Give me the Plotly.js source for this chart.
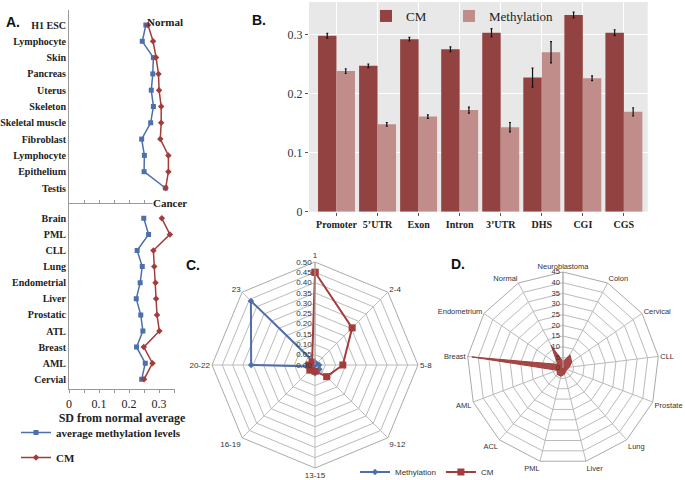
<!DOCTYPE html>
<html>
<head>
<meta charset="utf-8">
<script src="https://cdn.plot.ly/plotly-3.0.1.min.js"></script>
<style>
  body { margin: 0; padding: 0; background: #fff; }
  #graphDiv { width: 685px; height: 480px; }
</style>
</head>
<body>
<div id="graphDiv"></div>
<script>
// Panel A: SD from normal average
const normalTissues = ['H1 ESC', 'Lymphocyte', 'Skin', 'Pancreas', 'Uterus', 'Skeleton', 'Skeletal muscle', 'Fibroblast', 'Lymphocyte', 'Epithelium', 'Testis'];
const normalMeth = [0.256, 0.244, 0.281, 0.279, 0.274, 0.281, 0.272, 0.242, 0.251, 0.250, 0.321];
const normalCM = [0.263, 0.280, 0.290, 0.298, 0.300, 0.307, 0.307, 0.304, 0.331, 0.331, 0.322];
const cancerTypes = ['Brain', 'PML', 'CLL', 'Lung', 'Endometrial', 'Liver', 'Prostatic', 'ATL', 'Breast', 'AML', 'Cervial'];
const cancerMeth = [0.249, 0.265, 0.227, 0.244, 0.237, 0.224, 0.239, 0.246, 0.225, 0.254, 0.242];
const cancerCM = [0.309, 0.336, 0.281, 0.284, 0.288, 0.290, 0.293, 0.301, 0.249, 0.278, 0.250];

// Panel B: genomic regions
const regions = ['Promoter', '5’UTR', 'Exon', 'Intron', '3’UTR', 'DHS', 'CGI', 'CGS'];
const regionCM = [0.298, 0.247, 0.292, 0.275, 0.303, 0.227, 0.333, 0.303];
const regionCMErr = [0.004, 0.003, 0.003, 0.004, 0.007, 0.016, 0.005, 0.005];
const regionMeth = [0.238, 0.148, 0.161, 0.172, 0.143, 0.270, 0.226, 0.169];
const regionMethErr = [0.004, 0.003, 0.003, 0.005, 0.008, 0.018, 0.004, 0.007];

// Panel C: radar by class
const cnvClasses = ['1', '2-4', '5-8', '9-12', '13-15', '16-19', '20-22', '23'];
const cnvMeth = [0.01, 0.01, 0.02, 0.03, 0.04, 0.01, 0.31, 0.44];
const cnvCM = [0.45, 0.255, 0.135, 0.08, 0.03, 0.035, 0.03, 0.02];

// Panel D: radar by cancer
const cancerNames = ['Neuroblastoma', 'Colon', 'Cervical', 'CLL', 'Prostate', 'Lung', 'Liver', 'PML', 'ACL', 'AML', 'Breast', 'Endometrium', 'Normal'];
const cancerCMCount = [3, 7, 5, 3, 2, 2, 3, 4, 4, 3, 43, 3, 12];

const blue = '#4d6fac';
const red = '#a23d3b';
const barDark = '#924341';
const barLight = '#c08d8b';
const serif = 'Liberation Serif, Times New Roman, serif';
const sans = 'Liberation Sans, Arial, sans-serif';

function idx(arr) {
    return arr.map((_, i) => i);
}

// A traces
let normMethTrace = {
    x: normalMeth, y: idx(normalTissues), xaxis: 'x', yaxis: 'y',
    mode: 'lines+markers', name: 'average methylation levels',
    line: {color: blue, width: 1.5}, marker: {symbol: 'square', size: 5, color: blue},
    legend: 'legend', legendgroup: 'm'
};
let normCMTrace = {
    x: normalCM, y: idx(normalTissues), xaxis: 'x', yaxis: 'y',
    mode: 'lines+markers', name: 'CM',
    line: {color: red, width: 1.5}, marker: {symbol: 'diamond', size: 5, color: red},
    legend: 'legend', legendgroup: 'c'
};
let cancMethTrace = {
    x: cancerMeth, y: idx(cancerTypes), xaxis: 'x2', yaxis: 'y2',
    mode: 'lines+markers', showlegend: false,
    line: {color: blue, width: 1.5}, marker: {symbol: 'square', size: 5, color: blue}
};
let cancCMTrace = {
    x: cancerCM, y: idx(cancerTypes), xaxis: 'x2', yaxis: 'y2',
    mode: 'lines+markers', showlegend: false,
    line: {color: red, width: 1.5}, marker: {symbol: 'diamond', size: 5, color: red}
};

// B traces
let barCM = {
    type: 'bar', x: regions, y: regionCM, xaxis: 'x3', yaxis: 'y3', name: 'CM',
    marker: {color: barDark},
    error_y: {type: 'data', array: regionCMErr, color: '#111', thickness: 1.2, width: 1},
    legend: 'legend2'
};
let barMeth = {
    type: 'bar', x: regions, y: regionMeth, xaxis: 'x3', yaxis: 'y3', name: 'Methylation',
    marker: {color: barLight},
    error_y: {type: 'data', array: regionMethErr, color: '#111', thickness: 1.2, width: 1},
    legend: 'legend4'
};

// C traces
let radarMeth = {
    type: 'scatterpolar', r: cnvMeth.concat([cnvMeth[0]]), theta: cnvClasses.concat([cnvClasses[0]]),
    subplot: 'polar', mode: 'lines+markers', name: 'Methylation',
    line: {color: blue, width: 2}, marker: {symbol: 'diamond', size: 5, color: blue},
    legend: 'legend3'
};
let radarCM = {
    type: 'scatterpolar', r: cnvCM.concat([cnvCM[0]]), theta: cnvClasses.concat([cnvClasses[0]]),
    subplot: 'polar', mode: 'lines+markers', name: 'CM',
    line: {color: red, width: 2}, marker: {symbol: 'square', size: 7, color: red},
    legend: 'legend3'
};

// D trace
let radarD = {
    type: 'scatterpolar', r: cancerCMCount.concat([cancerCMCount[0]]), theta: cancerNames.concat([cancerNames[0]]),
    subplot: 'polar2', mode: 'lines', fill: 'toself', showlegend: false,
    line: {color: red, width: 1}, fillcolor: 'rgba(160,60,58,0.92)'
};

let data = [normMethTrace, normCMTrace, cancMethTrace, cancCMTrace, barCM, barMeth, radarMeth, radarCM, radarD];

const H = 480, W = 685;
function py(p) { return 1 - p / H; }
function px(p) { return p / W; }

let catFont = {family: serif, size: 10, color: '#222', weight: 'bold'};

let layout = {
    width: W, height: H,
    margin: {l: 0, r: 0, t: 0, b: 0, autoexpand: false},
    paper_bgcolor: '#fff', plot_bgcolor: 'rgba(0,0,0,0)',
    showlegend: true,
    barmode: 'group', bargap: 0.1, bargroupgap: 0,
    // A normal
    xaxis: {
        domain: [px(69), px(175)], anchor: 'y', range: [0, 0.353], automargin: false,
        showgrid: false, zeroline: false, showline: true, linecolor: '#999', linewidth: 1,
        ticks: 'inside', ticklen: 3, tickcolor: '#999', dtick: 0.05, showticklabels: false
    },
    yaxis: {
        domain: [py(203), py(10)], anchor: 'x', range: [10.92, -0.92], automargin: false,
        tickvals: idx(normalTissues), ticktext: normalTissues,
        showgrid: false, zeroline: false, showline: true, linecolor: '#999', linewidth: 1,
        ticks: '', tickfont: catFont
    },
    // A cancer
    xaxis2: {
        domain: [px(69), px(175)], anchor: 'y2', range: [0, 0.353], automargin: false,
        showgrid: false, zeroline: false, showline: true, linecolor: '#999', linewidth: 1,
        ticks: 'outside', ticklen: 3, tickcolor: '#999', dtick: 0.1,
        minor: {dtick: 0.05, ticks: 'outside', ticklen: 3, tickcolor: '#999'},
        tickfont: {family: serif, size: 12, color: '#222'},
        title: {text: 'SD from normal average', font: {family: serif, size: 12, color: '#222', weight: 'bold'}, standoff: 0}
    },
    yaxis2: {
        domain: [py(389.3), py(203)], anchor: 'x2', range: [10.62, -0.95], automargin: false,
        tickvals: idx(cancerTypes), ticktext: cancerTypes,
        showgrid: false, zeroline: false, showline: true, linecolor: '#999', linewidth: 1,
        ticks: '', tickfont: catFont
    },
    // B
    xaxis3: {
        domain: [px(309), px(647.7)], anchor: 'y3', range: [-0.67, 7.58], automargin: false,
        showgrid: true, gridcolor: '#fff', gridwidth: 1, zeroline: false, showline: false,
        ticks: 'outside', ticklen: 3, tickcolor: '#555', tickangle: 0,
        tickfont: {family: serif, size: 10, color: '#222', weight: 'bold'}
    },
    yaxis3: {
        domain: [py(211.7), py(2)], anchor: 'x3', range: [0, 0.355], automargin: false,
        tickvals: [0, 0.1, 0.2, 0.3], ticktext: ['0', '0.1', '0.2', '0.3'],
        showgrid: true, gridcolor: '#fff', gridwidth: 1, zeroline: false, showline: false,
        ticks: 'outside', ticklen: 3, tickcolor: '#555',
        tickfont: {family: serif, size: 12, color: '#333'}
    },
    // C
    polar: {
        domain: {x: [px(212), px(418)], y: [py(468), py(262)]},
        gridshape: 'linear', bgcolor: '#fff',
        angularaxis: {
            direction: 'clockwise', rotation: 90, linecolor: '#aaa', gridcolor: '#bbb',
            tickfont: {family: sans, size: 8, color: '#333'}, ticks: ''
        },
        radialaxis: {
            range: [0, 0.5], dtick: 0.05, tickformat: '.2f', angle: 90, side: 'counterclockwise',
            tickangle: 90, linecolor: '#aaa', gridcolor: '#bbb', ticks: '',
            tickfont: {family: sans, size: 8, color: '#333'}
        }
    },
    // D
    polar2: {
        domain: {x: [px(467), px(659)], y: [py(464), py(272)]},
        gridshape: 'linear', bgcolor: '#fff',
        angularaxis: {
            direction: 'clockwise', rotation: 90, linecolor: '#aaa', gridcolor: '#bbb',
            tickfont: {family: sans, size: 7.5, color: '#333'}, ticks: ''
        },
        radialaxis: {
            range: [0, 45], dtick: 5, angle: 90, side: 'counterclockwise',
            tickangle: 90, linecolor: '#aaa', gridcolor: '#bbb', ticks: '',
            tickfont: {family: sans, size: 7.5, color: '#333'}
        }
    },
    legend: {
        x: px(16), y: py(418), xanchor: 'left', yanchor: 'top',
        orientation: 'v', traceorder: 'grouped', tracegroupgap: 6,
        font: {family: serif, size: 11, color: '#222', weight: 'bold'}, bgcolor: 'rgba(0,0,0,0)'
    },
    legend2: {
        x: px(366), y: py(1), xanchor: 'left', yanchor: 'top',
        orientation: 'h', font: {family: serif, size: 13, color: '#222'}, bgcolor: 'rgba(0,0,0,0)',
        itemwidth: 30
    },
    legend4: {
        x: px(449), y: py(1), xanchor: 'left', yanchor: 'top',
        orientation: 'h', font: {family: serif, size: 13, color: '#222'}, bgcolor: 'rgba(0,0,0,0)',
        itemwidth: 30
    },
    legend3: {
        x: px(355), y: py(472), xanchor: 'left', yanchor: 'middle',
        orientation: 'h', font: {family: sans, size: 8, color: '#333'}, bgcolor: 'rgba(0,0,0,0)',
        itemwidth: 30
    },
    shapes: [
        {type: 'rect', xref: 'x3 domain', yref: 'y3 domain', x0: 0, x1: 1, y0: 0, y1: 1,
         fillcolor: '#e8e8e8', line: {width: 0}, layer: 'below'}
    ],
    annotations: [
        {text: '<b>A.</b>', x: px(4), y: py(12), xref: 'paper', yref: 'paper', showarrow: false, xanchor: 'left', font: {family: sans, size: 14, color: '#111'}},
        {text: '<b>B.</b>', x: px(250), y: py(10), xref: 'paper', yref: 'paper', showarrow: false, xanchor: 'left', font: {family: sans, size: 14, color: '#111'}},
        {text: '<b>C.</b>', x: px(184), y: py(265), xref: 'paper', yref: 'paper', showarrow: false, xanchor: 'left', font: {family: sans, size: 14, color: '#111'}},
        {text: '<b>D.</b>', x: px(449), y: py(264), xref: 'paper', yref: 'paper', showarrow: false, xanchor: 'left', font: {family: sans, size: 14, color: '#111'}},
        {text: '<b>Normal</b>', x: px(145), y: py(14), xref: 'paper', yref: 'paper', showarrow: false, font: {family: serif, size: 11, color: '#222'}},
        {text: '<b>Cancer</b>', x: px(152), y: py(203), xref: 'paper', yref: 'paper', showarrow: false, bgcolor: '#fff', borderpad: 0, font: {family: serif, size: 11, color: '#222'}}
    ]
};

Plotly.newPlot('graphDiv', data, layout, {displayModeBar: false, staticPlot: true});
</script>
</body>
</html>
